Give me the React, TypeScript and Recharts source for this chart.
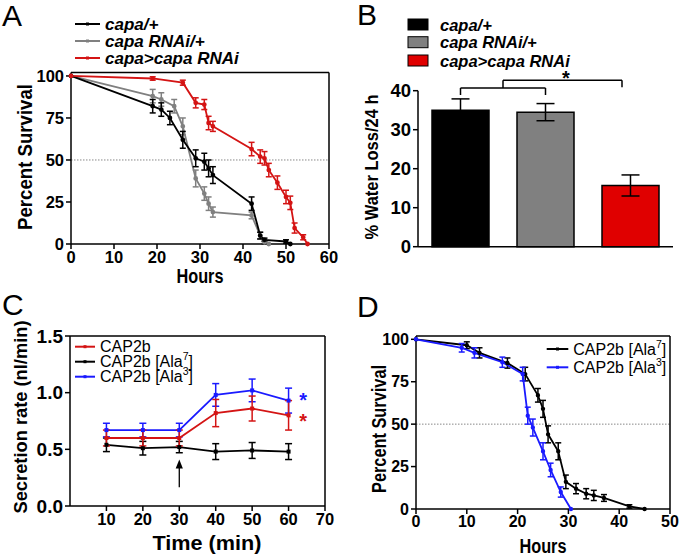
import React from 'react';
import {
  LineChart, Line, XAxis, YAxis, ErrorBar, ReferenceLine, ReferenceDot,
  BarChart, Bar, Legend, Cell,
} from 'recharts';

const FONT = '"Liberation Sans", Arial, Helvetica, sans-serif';

// ---------- Panel A: survival ----------
const aCapaHours = [0, 19, 21, 23, 26, 29, 31, 32, 33, 42, 44, 45, 50, 51];
const aCapaSurv = [100, 82, 80, 75, 62, 51, 49, 45, 41, 24, 5, 2.5, 1.5, 0];
const aCapaErr = [0, 4, 4, 4, 5, 5, 5, 5, 5, 4, 2, 1, 1, 0];

const aRnaiHours = [0, 19, 21, 24, 26, 29, 31, 32, 33, 42, 44, 45, 46];
const aRnaiSurv = [100, 88, 86, 82, 70, 39, 30, 24, 19, 17, 5, 1, 0];
const aRnaiErr = [0, 4, 4, 4, 5, 5, 4, 4, 3, 2, 2, 1, 0];

const aKdHours = [0, 19, 26, 29, 31, 32, 33, 42, 44, 45, 46, 48, 50, 51, 52, 54, 55];
const aKdSurv = [100, 98.5, 96, 84, 83, 72, 70, 56.5, 52, 51, 44, 36.5, 28, 24.5, 9.5, 4, 0];
const aKdErr = [0, 1, 1.5, 3, 3, 4, 3, 4, 4, 4, 4, 4, 4, 4, 3, 1.5, 0];

const aNames = ['capa/+', 'capa RNAi/+', 'capa>capa RNAi'];
const aColors = ['#000000', '#808080', '#d41414'];
const aXTicks = [0, 10, 20, 30, 40, 50, 60];
const survTicks = [0, 25, 50, 75, 100];

// ---------- Panel B: water loss ----------
const bCats = ['capa/+', 'capa RNAi/+', 'capa>capa RNAi'];
const bVals = [35, 34.5, 15.7];
const bErrs = [2.9, 2.2, 2.7];
const bColors = ['#000000', '#808080', '#e00000'];
const bYTicks = [0, 10, 20, 30, 40];

// ---------- Panel C: secretion ----------
const cTime = [10, 20, 30, 40, 50, 60];
const cCap2b = [0.6, 0.6, 0.6, 0.82, 0.86, 0.8];
const cCap2bErr = [0.07, 0.07, 0.07, 0.12, 0.11, 0.13];
const cAla7 = [0.54, 0.51, 0.52, 0.48, 0.49, 0.48];
const cAla7Err = [0.06, 0.06, 0.05, 0.07, 0.07, 0.07];
const cAla3 = [0.67, 0.67, 0.67, 0.98, 1.02, 0.93];
const cAla3Err = [0.06, 0.06, 0.06, 0.1, 0.1, 0.11];
const cXTicks = [10, 20, 30, 40, 50, 60, 70];
const cYTicks = [0, 0.5, 1.0, 1.5];

// ---------- Panel D: survival ----------
const dAla7Hours = [0, 10, 12.5, 18, 21.5, 24, 25, 26, 28, 29.5, 31.5, 33.5, 35, 37, 42, 45];
const dAla7Surv = [100, 96.5, 92, 86, 79.5, 67, 59, 44, 34, 16, 12, 9, 8, 6.5, 1.5, 0];
const dAla7Err = [0, 2, 3, 3, 4, 4, 5, 5, 5, 4, 3, 3, 3, 2, 1, 0];
const dAla3Hours = [0, 9, 11.5, 17, 21, 22, 23, 25, 26.5, 28.5, 30.5];
const dAla3Surv = [100, 95, 92, 86.5, 79.5, 55, 48, 34, 23, 10, 0];
const dAla3Err = [0, 2.5, 3, 3, 4, 5, 5, 5, 4, 3, 0];
const dXTicks = [0, 10, 20, 30, 40, 50];

const rows = (xs: number[], ys: number[], es: number[]) =>
  xs.map((x, i) => ({ x, y: ys[i], e: es[i] }));

const tick = (fontSize: number) => ({ fontSize, fontWeight: 700, fill: '#000', fontFamily: FONT });
const axisLine = { stroke: '#000', strokeWidth: 1.5 };
const noOffsetLegend = { layout: 'horizontal' as const, verticalAlign: 'middle' as const, align: 'center' as const };

const SqDot = (color: string, s: number) => (props: any) => {
  const { cx, cy } = props;
  if (cx == null || cy == null) return null;
  return <rect x={cx - s / 2} y={cy - s / 2} width={s} height={s} fill={color} />;
};

const Sup = ({ base, sup }: { base: string; sup: string }) => (
  <>
    {base}
    <tspan dy={-7} fontSize={10.5}>{sup}</tspan>
    <tspan dy={7}>]</tspan>
  </>
);

type LegItem = { label: React.ReactNode; color: string };

const lineLegend = (
  items: LegItem[], w: number, h: number, x1: number, x2: number, tx: number,
  ys: number[], fontSize: number, bold: boolean, italic: boolean,
) => () => (
  <svg width={w} height={h} style={{ display: 'block', overflow: 'visible' }}>
    {items.map((it, i) => (
      <g key={i}>
        <line x1={x1} x2={x2} y1={ys[i]} y2={ys[i]} stroke={it.color} strokeWidth={2} />
        <rect x={(x1 + x2) / 2 - 1.5} y={ys[i] - 1.5} width={3} height={3} fill={it.color} />
        <text x={tx} y={ys[i] + fontSize * 0.36} fontSize={fontSize} fontFamily={FONT}
          fontWeight={bold ? 700 : 400} fontStyle={italic ? 'italic' : 'normal'} fill="#000">
          {it.label}
        </text>
      </g>
    ))}
  </svg>
);

const boxLegend = (items: LegItem[]) => () => (
  <svg width={260} height={60} style={{ display: 'block' }}>
    {items.map((it, i) => (
      <g key={i}>
        <rect x={2} y={[9, 26.7, 45][i]} width={20} height={11} fill={it.color} stroke="#000" strokeWidth={1} />
        <text x={34} y={[14.5, 32.2, 50.5][i] + 6} fontSize={16.5} fontFamily={FONT}
          fontWeight={700} fontStyle="italic" fill="#000">{it.label}</text>
      </g>
    ))}
  </svg>
);

const Star = (color: string) => (props: any) => (
  <text x={props.cx} y={props.cy + 10} textAnchor="middle" fontSize={20} fontWeight={700}
    fontFamily={FONT} fill={color}>*</text>
);

const ArrowHead = (props: any) => {
  const { cx, cy } = props;
  return <polygon points={`${cx},${cy} ${cx - 3.6},${cy + 9} ${cx + 3.6},${cy + 9}`} fill="#000" />;
};

const title = { fontFamily: FONT, fontWeight: 700, fill: '#000', lengthAdjust: 'spacingAndGlyphs' } as const;
const letter = { fontFamily: FONT, fontWeight: 400, fontSize: 30, fill: '#000' } as const;

const YTitle = ({ x, y, text, size, len }: { x: number; y: number; text: string; size: number; len: number }) => (
  <text x={x} y={y} transform={`rotate(-90 ${x} ${y})`} textAnchor="middle" fontSize={size}
    textLength={len} {...title}>{text}</text>
);
const XTitle = ({ x, y, text, size, len }: { x: number; y: number; text: string; size: number; len: number }) => (
  <text x={x} y={y} textAnchor="middle" fontSize={size} textLength={len} {...title}>{text}</text>
);

export default function App() {
  const aData = [
    rows(aCapaHours, aCapaSurv, aCapaErr),
    rows(aRnaiHours, aRnaiSurv, aRnaiErr),
    rows(aKdHours, aKdSurv, aKdErr),
  ];
  const bData = bCats.map((c, i) => ({ idx: i, name: c, v: bVals[i], e: bErrs[i] }));
  const cData = {
    red: rows(cTime, cCap2b, cCap2bErr),
    black: rows(cTime, cAla7, cAla7Err),
    blue: rows(cTime, cAla3, cAla3Err),
  };
  const dData = {
    black: rows(dAla7Hours, dAla7Surv, dAla7Err),
    blue: rows(dAla3Hours, dAla3Surv, dAla3Err),
  };

  return (
    <div style={{ position: 'absolute', left: 0, top: 0, width: 680, height: 560, background: '#fff', fontFamily: FONT, overflow: 'hidden' }}>
      {/* Panel A */}
      <div style={{ position: 'absolute', left: 0, top: 0 }}>
        <LineChart width={340} height={280} margin={{ top: 72.6, right: 11, bottom: 10, left: 26 }}>
          <XAxis type="number" dataKey="x" domain={[0, 60]} ticks={aXTicks} tick={tick(16.5)}
            axisLine={axisLine} tickLine={axisLine} tickSize={5} height={26} allowDuplicatedCategory={false} />
          <YAxis type="number" domain={[0, 102]} ticks={survTicks} tick={tick(16.5)}
            axisLine={axisLine} tickLine={axisLine} tickSize={5} width={45} />
          <ReferenceLine y={50} stroke="#888" strokeDasharray="1.5 1.5" strokeWidth={1} />
          <ReferenceLine y={102} stroke="#000" strokeWidth={1.5} />
          <ReferenceLine x={60} stroke="#000" strokeWidth={1.5} />
          {[1, 0, 2].map((k) => (
            <Line key={k} data={aData[k]} dataKey="y" name={aNames[k]} stroke={aColors[k]} strokeWidth={1.8}
              dot={{ r: 1.5, fill: aColors[k], stroke: aColors[k] }} isAnimationActive={false}>
              <ErrorBar dataKey="e" width={3} stroke={aColors[k]} strokeWidth={1.5} isAnimationActive={false} />
            </Line>
          ))}
          <Legend {...noOffsetLegend}
            wrapperStyle={{ position: 'absolute', left: 70, top: 10, width: 240, height: 60 }}
            content={lineLegend(aNames.map((n, i) => ({ label: n, color: aColors[i] })), 240, 60, 5, 30, 35,
              [14, 31, 48], 17, true, true)} />
        </LineChart>
      </div>

      {/* Panel B */}
      <div style={{ position: 'absolute', left: 340, top: 0 }}>
        <BarChart width={340} height={280} data={bData} margin={{ top: 90.7, right: 7, bottom: 8.3, left: 33 }}>
          <XAxis type="number" dataKey="idx" domain={[-0.5, 2.5]} ticks={[0, 1, 2]} tick={false}
            axisLine={axisLine} tickLine={axisLine} tickSize={6} height={25} />
          <YAxis type="number" domain={[0, 40]} ticks={bYTicks} tick={tick(18.5)}
            axisLine={axisLine} tickLine={axisLine} tickSize={5} width={45} />
          <Bar dataKey="v" barSize={57} stroke="#000" strokeWidth={1.5} isAnimationActive={false}>
            {bData.map((d, i) => <Cell key={d.name} fill={bColors[i]} />)}
            <ErrorBar dataKey="e" width={9} stroke="#000" strokeWidth={1.5} isAnimationActive={false} />
          </Bar>
          <ReferenceLine ifOverflow="visible" stroke="#000" strokeWidth={1.5} segment={[{ x: 0, y: 38.9 }, { x: 0, y: 40.7 }]} />
          <ReferenceLine ifOverflow="visible" stroke="#000" strokeWidth={1.5} segment={[{ x: 0, y: 40.7 }, { x: 1, y: 40.7 }]} />
          <ReferenceLine ifOverflow="visible" stroke="#000" strokeWidth={1.5} segment={[{ x: 1, y: 40.7 }, { x: 1, y: 38.9 }]} />
          <ReferenceLine ifOverflow="visible" stroke="#000" strokeWidth={1.5} segment={[{ x: 0.5, y: 40.7 }, { x: 0.5, y: 42.7 }]} />
          <ReferenceLine ifOverflow="visible" stroke="#000" strokeWidth={1.5} segment={[{ x: 0.5, y: 42.7 }, { x: 1.9, y: 42.7 }]} />
          <ReferenceLine ifOverflow="visible" stroke="#000" strokeWidth={1.5} segment={[{ x: 1.9, y: 42.7 }, { x: 1.9, y: 40.9 }]} />
          <ReferenceDot x={1.24} y={44.0} ifOverflow="visible" shape={Star('#000')} />
          <Legend {...noOffsetLegend}
            wrapperStyle={{ position: 'absolute', left: 66, top: 10, width: 260, height: 60 }}
            content={boxLegend(bCats.map((n, i) => ({ label: n, color: bColors[i] })))} />
        </BarChart>
      </div>

      {/* Panel C */}
      <div style={{ position: 'absolute', left: 0, top: 280 }}>
        <LineChart width={340} height={280} margin={{ top: 56, right: 15, bottom: 24, left: 25 }}>
          <XAxis type="number" dataKey="x" domain={[0, 70]} ticks={cXTicks} tick={tick(16.5)}
            axisLine={axisLine} tickLine={axisLine} tickSize={5} height={30} allowDuplicatedCategory={false} />
          <YAxis type="number" domain={[0, 1.5]} ticks={cYTicks} tick={tick(19)}
            tickFormatter={(v: number) => v.toFixed(1)}
            axisLine={axisLine} tickLine={axisLine} tickSize={5} width={45} />
          <ReferenceLine y={1.5} stroke="#000" strokeWidth={1.5} />
          <ReferenceLine x={70} stroke="#000" strokeWidth={1.5} />
          <Line data={cData.black} dataKey="y" name="CAP2b [Ala7]" stroke="#000" strokeWidth={1.8}
            dot={SqDot('#000', 4)} isAnimationActive={false}>
            <ErrorBar dataKey="e" width={3.5} stroke="#000" strokeWidth={1.5} isAnimationActive={false} />
          </Line>
          <Line data={cData.blue} dataKey="y" name="CAP2b [Ala3]" stroke="#1a1aff" strokeWidth={1.8}
            dot={SqDot('#1a1aff', 4)} isAnimationActive={false}>
            <ErrorBar dataKey="e" width={3.5} stroke="#1a1aff" strokeWidth={1.5} isAnimationActive={false} />
          </Line>
          <Line data={cData.red} dataKey="y" name="CAP2b" stroke="#d41414" strokeWidth={1.8}
            dot={SqDot('#d41414', 4)} isAnimationActive={false}>
            <ErrorBar dataKey="e" width={3.5} stroke="#d41414" strokeWidth={1.5} isAnimationActive={false} />
          </Line>
          <ReferenceLine ifOverflow="visible" stroke="#000" strokeWidth={1.3} segment={[{ x: 30, y: 0.165 }, { x: 30, y: 0.34 }]} />
          <ReferenceDot x={30} y={0.41} ifOverflow="visible" shape={ArrowHead} />
          <ReferenceDot x={64} y={0.965} ifOverflow="visible" shape={Star('#1a1aff')} />
          <ReferenceDot x={64} y={0.78} ifOverflow="visible" shape={Star('#d41414')} />
          <Legend {...noOffsetLegend}
            wrapperStyle={{ position: 'absolute', left: 70, top: 56, width: 190, height: 52 }}
            content={lineLegend([
              { label: 'CAP2b', color: '#d41414' },
              { label: <Sup base="CAP2b [Ala" sup="7" />, color: '#000' },
              { label: <Sup base="CAP2b [Ala" sup="3" />, color: '#1a1aff' },
            ], 190, 52, 5, 25, 30, [10.7, 25.7, 40.7], 16, false, false)} />
        </LineChart>
      </div>

      {/* Panel D */}
      <div style={{ position: 'absolute', left: 340, top: 280 }}>
        <LineChart width={340} height={280} margin={{ top: 55.9, right: 10, bottom: 21, left: 31 }}>
          <XAxis type="number" dataKey="x" domain={[0, 50]} ticks={dXTicks} tick={tick(16)}
            axisLine={axisLine} tickLine={axisLine} tickSize={5} height={30} allowDuplicatedCategory={false} />
          <YAxis type="number" domain={[0, 102]} ticks={survTicks} tick={tick(16)}
            axisLine={axisLine} tickLine={axisLine} tickSize={5} width={45} />
          <ReferenceLine y={50} stroke="#888" strokeDasharray="1.5 1.5" strokeWidth={1} />
          <ReferenceLine y={102} stroke="#000" strokeWidth={1.5} />
          <ReferenceLine x={50} stroke="#000" strokeWidth={1.5} />
          <Line data={dData.black} dataKey="y" name="CAP2b [Ala7]" stroke="#000" strokeWidth={1.8}
            dot={{ r: 1.3, fill: '#000', stroke: '#000' }} isAnimationActive={false}>
            <ErrorBar dataKey="e" width={3} stroke="#000" strokeWidth={1.5} isAnimationActive={false} />
          </Line>
          <Line data={dData.blue} dataKey="y" name="CAP2b [Ala3]" stroke="#1a1aff" strokeWidth={1.8}
            dot={{ r: 1.3, fill: '#1a1aff', stroke: '#1a1aff' }} isAnimationActive={false}>
            <ErrorBar dataKey="e" width={3} stroke="#1a1aff" strokeWidth={1.5} isAnimationActive={false} />
          </Line>
          <Legend {...noOffsetLegend}
            wrapperStyle={{ position: 'absolute', left: 200, top: 56, width: 135, height: 40 }}
            content={lineLegend([
              { label: <Sup base="CAP2b [Ala" sup="7" />, color: '#000' },
              { label: <Sup base="CAP2b [Ala" sup="3" />, color: '#1a1aff' },
            ], 135, 40, 6.7, 28.3, 33.3, [13, 31.3], 16, false, false)} />
        </LineChart>
      </div>

      {/* Panel letters and axis titles */}
      <svg width={680} height={560} style={{ position: 'absolute', left: 0, top: 0, pointerEvents: 'none' }}>
        <text x={2} y={26} {...letter}>A</text>
        <text x={357} y={25} {...letter}>B</text>
        <text x={2} y={315} {...letter}>C</text>
        <text x={357} y={317} {...letter}>D</text>
        <YTitle x={32} y={157} text="Percent Survival" size={20} len={146} />
        <XTitle x={200} y={283} text="Hours" size={20} len={47} />
        <YTitle x={378} y={167} text="% Water Loss/24 h" size={19} len={145} />
        <YTitle x={27} y={417} text="Secretion rate (nl/min)" size={19} len={193} />
        <XTitle x={207} y={550} text="Time (min)" size={21} len={109} />
        <YTitle x={386} y={429} text="Percent Survival" size={20} len={128} />
        <XTitle x={543} y={553} text="Hours" size={20} len={47} />
      </svg>
    </div>
  );
}
